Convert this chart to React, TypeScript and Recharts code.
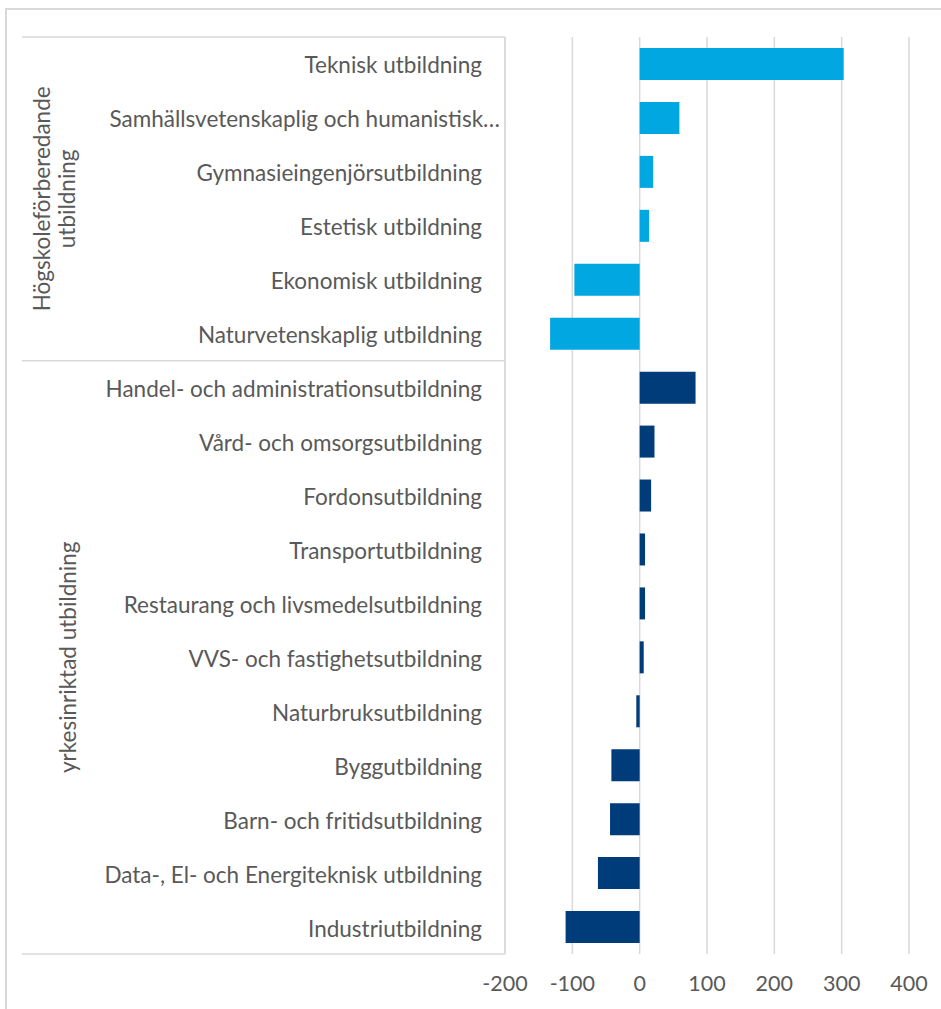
import React from 'react';
import { BarChart, Bar, XAxis, YAxis, CartesianGrid, Cell } from 'recharts';

const categories = [
  'Teknisk utbildning',
  'Samhällsvetenskaplig och humanistisk…',
  'Gymnasieingenjörsutbildning',
  'Estetisk utbildning',
  'Ekonomisk utbildning',
  'Naturvetenskaplig utbildning',
  'Handel- och administrationsutbildning',
  'Vård- och omsorgsutbildning',
  'Fordonsutbildning',
  'Transportutbildning',
  'Restaurang och livsmedelsutbildning',
  'VVS- och fastighetsutbildning',
  'Naturbruksutbildning',
  'Byggutbildning',
  'Barn- och fritidsutbildning',
  'Data-, El- och Energiteknisk utbildning',
  'Industriutbildning',
];
const values = [303, 59, 20, 14, -97, -133, 83, 22, 17, 8, 8, 6, -5, -42, -44, -62, -110];
const groupIndex = [0, 0, 0, 0, 0, 0, 1, 1, 1, 1, 1, 1, 1, 1, 1, 1, 1];
const groupLabels = [['Högskoleförberedande', 'utbildning'], ['yrkesinriktad utbildning']];
const groupColors = ['#00A7E1', '#003B7A'];
const xTicks = [-200, -100, 0, 100, 200, 300, 400];

const data = categories.map((c, i) => ({ name: c, value: values[i], group: groupIndex[i] }));

const W = 941;
const H = 1009;
const MARGIN = { top: 37, right: 32, bottom: 0, left: 0 };
const Y_AXIS_W = 505;
const X_AXIS_H = 55;
const PLOT_H = H - MARGIN.top - MARGIN.bottom - X_AXIS_H;
const BAND = PLOT_H / categories.length;
const AXIS_X = MARGIN.left + Y_AXIS_W;
const BOX_LEFT = 22;
const FONT = 'Lato, "Open Sans", sans-serif';
const TEXT = '#595959';
const LINE = '#D9D9D9';
const LABEL_SIZE = 22.5;

const CategoryTick = (props: any) => {
  const { y, payload, index } = props;
  const i = typeof index === 'number' ? index : categories.indexOf(payload.value);
  const label: string = payload.value;
  const g = groupIndex[i];
  const isGroupStart = i === 0 || groupIndex[i - 1] !== g;
  const isLast = i === categories.length - 1;
  const top = y - BAND / 2;
  const count = groupIndex.filter((v) => v === g).length;
  const center = top + (count * BAND) / 2;
  const lines = groupLabels[g];
  const truncated = label.endsWith('…');
  return (
    <g>
      <text
        x={truncated ? AXIS_X - 5 : AXIS_X - 23}
        y={y + 1}
        textAnchor="end"
        dominantBaseline="central"
        fill={TEXT}
        fontSize={LABEL_SIZE}
        fontFamily={FONT}
      >
        {label}
      </text>
      {isGroupStart && (
        <line x1={BOX_LEFT} x2={AXIS_X} y1={top} y2={top} stroke={LINE} strokeWidth={1.5} />
      )}
      {isLast && (
        <line x1={BOX_LEFT} x2={AXIS_X} y1={y + BAND / 2} y2={y + BAND / 2} stroke={LINE} strokeWidth={1.5} />
      )}
      {isGroupStart &&
        lines.map((ln, k) => {
          const lx = lines.length === 1 ? 68 : 42 + k * 25;
          return (
            <text
              key={k}
              x={lx}
              y={center}
              transform={`rotate(-90 ${lx} ${center})`}
              textAnchor="middle"
              dominantBaseline="central"
              fill={TEXT}
              fontSize={LABEL_SIZE}
              fontFamily={FONT}
            >
              {ln}
            </text>
          );
        })}
    </g>
  );
};

const ValueTick = (props: any) => {
  const { x, y, payload } = props;
  return (
    <text x={x} y={y + 21} textAnchor="middle" dominantBaseline="central" fill={TEXT} fontSize={21.5} fontFamily={FONT}>
      {payload.value}
    </text>
  );
};

export default function App() {
  return (
    <div style={{ position: 'absolute', left: 0, top: 0, width: W, height: H, background: '#fff', overflow: 'hidden' }}>
      <div
        style={{
          position: 'absolute',
          left: 5,
          top: 8,
          width: 1000,
          height: 1100,
          borderLeft: `2px solid ${LINE}`,
          borderTop: `2px solid ${LINE}`,
        }}
      />
      <div style={{ position: 'absolute', left: 0, top: 0 }}>
        <BarChart width={W} height={H} data={data} layout="vertical" margin={MARGIN}>
          <CartesianGrid horizontal={false} vertical={true} stroke={LINE} strokeWidth={1.5} />
          <XAxis
            type="number"
            domain={[-200, 400]}
            ticks={xTicks}
            axisLine={false}
            tickLine={false}
            height={X_AXIS_H}
            tick={<ValueTick />}
            interval={0}
          />
          <YAxis
            type="category"
            dataKey="name"
            width={Y_AXIS_W}
            axisLine={{ stroke: LINE, strokeWidth: 1.5 }}
            tickLine={false}
            tick={<CategoryTick />}
            interval={0}
          />
          <Bar dataKey="value" barSize={32} isAnimationActive={false}>
            {data.map((d, i) => (
              <Cell key={i} fill={groupColors[d.group]} />
            ))}
          </Bar>
        </BarChart>
      </div>
    </div>
  );
}
